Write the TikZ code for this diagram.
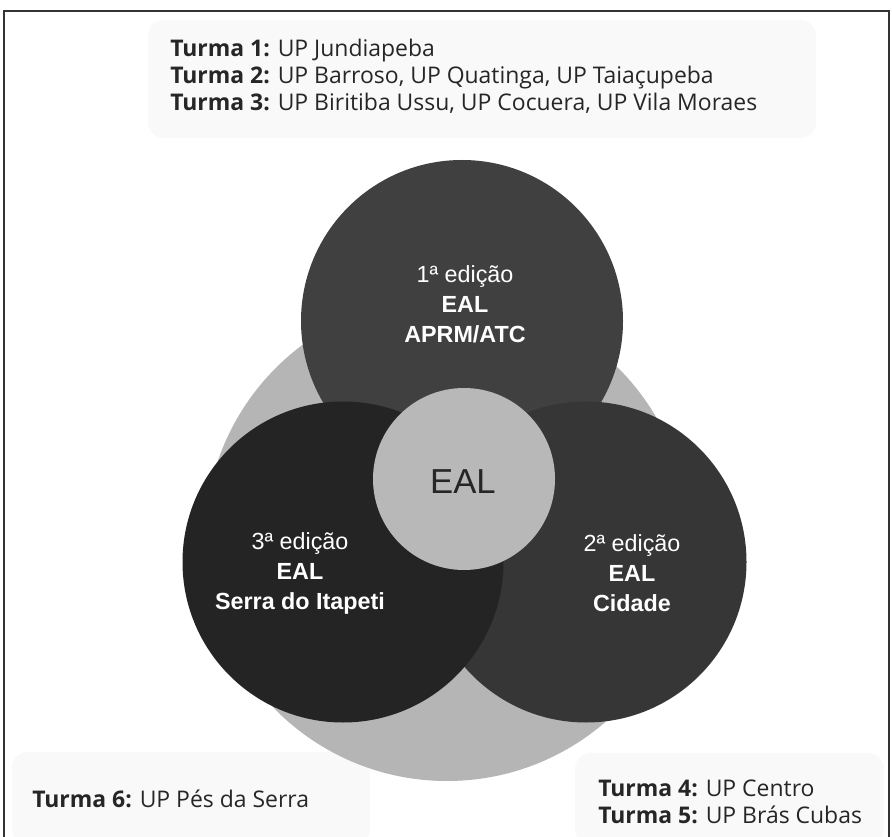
\documentclass[tikz,border=0pt]{standalone}
\usepackage{fontspec}
\setmainfont{Liberation Sans}
\newfontfamily\turmafont{Open Sans}
\begin{document}
\begin{tikzpicture}[x=0.75pt,y=-0.75pt,
  disc/.style={circle,inner sep=0pt,draw=none},
  panel/.style={fill=gray!5,draw=none,rounded corners=12pt},
  ctext/.style={text=white,align=center,font=\fontsize{17.5}{22.5}\selectfont},
  ttext/.style={anchor=west,align=left,inner sep=0pt,text=black!85,font=\turmafont\fontsize{17.2}{20.25}\selectfont}]
\useasboundingbox (0,0) rectangle (892,837);
\fill[white] (0,0) rectangle (892,837);
\draw[line width=1.2pt,black!80] (4,845) -- (4,11) -- (889,11) -- (889,845);
% panels
\path[panel] (148,20) rectangle (816,138);
\path[panel] (12,752) rectangle (370,845);
\path[panel] (575,753) rectangle (884,845);
\node[ttext] (t123) at (170,76) {\textbf{Turma 1:} UP Jundiapeba\\\textbf{Turma 2:} UP Barroso, UP Quatinga, UP Taiaçupeba\\\textbf{Turma 3:} UP Biritiba Ussu, UP Cocuera, UP Vila Moraes};
\node[ttext] (t6) at (32,799) {\textbf{Turma 6:} UP Pés da Serra};
\node[ttext] (t45) at (598,802) {\textbf{Turma 4:} UP Centro\\\textbf{Turma 5:} UP Brás Cubas};
% circles
\node[disc,fill=black!29,minimum size=363pt] (big) at (447,539) {};
\node[disc,fill=black!75,minimum size=241.5pt] (top) at (462,321) {};
\node[disc,fill=black!79,minimum size=240.75pt] (right) at (586,562) {};
\node[disc,fill=black!86,minimum size=240.75pt] (left) at (343,562) {};
\node[disc,fill=black!28,minimum size=136.5pt] (center) at (464,479) {};
% labels
\node[ctext] (ltop) at (465,304) {1ª edição\\\textbf{EAL}\\\textbf{APRM/ATC}};
\node[ctext] (lleft) at (300,573) {3ª edição\\\textbf{EAL}\\\textbf{Serra do Itapeti}};
\node[ctext] (lright) at (632,573) {2ª edição\\\textbf{EAL}\\\textbf{Cidade}};
\node[font=\fontsize{26}{28}\selectfont,text=black!85] (lc) at (463,482) {EAL};
\end{tikzpicture}
\end{document}
